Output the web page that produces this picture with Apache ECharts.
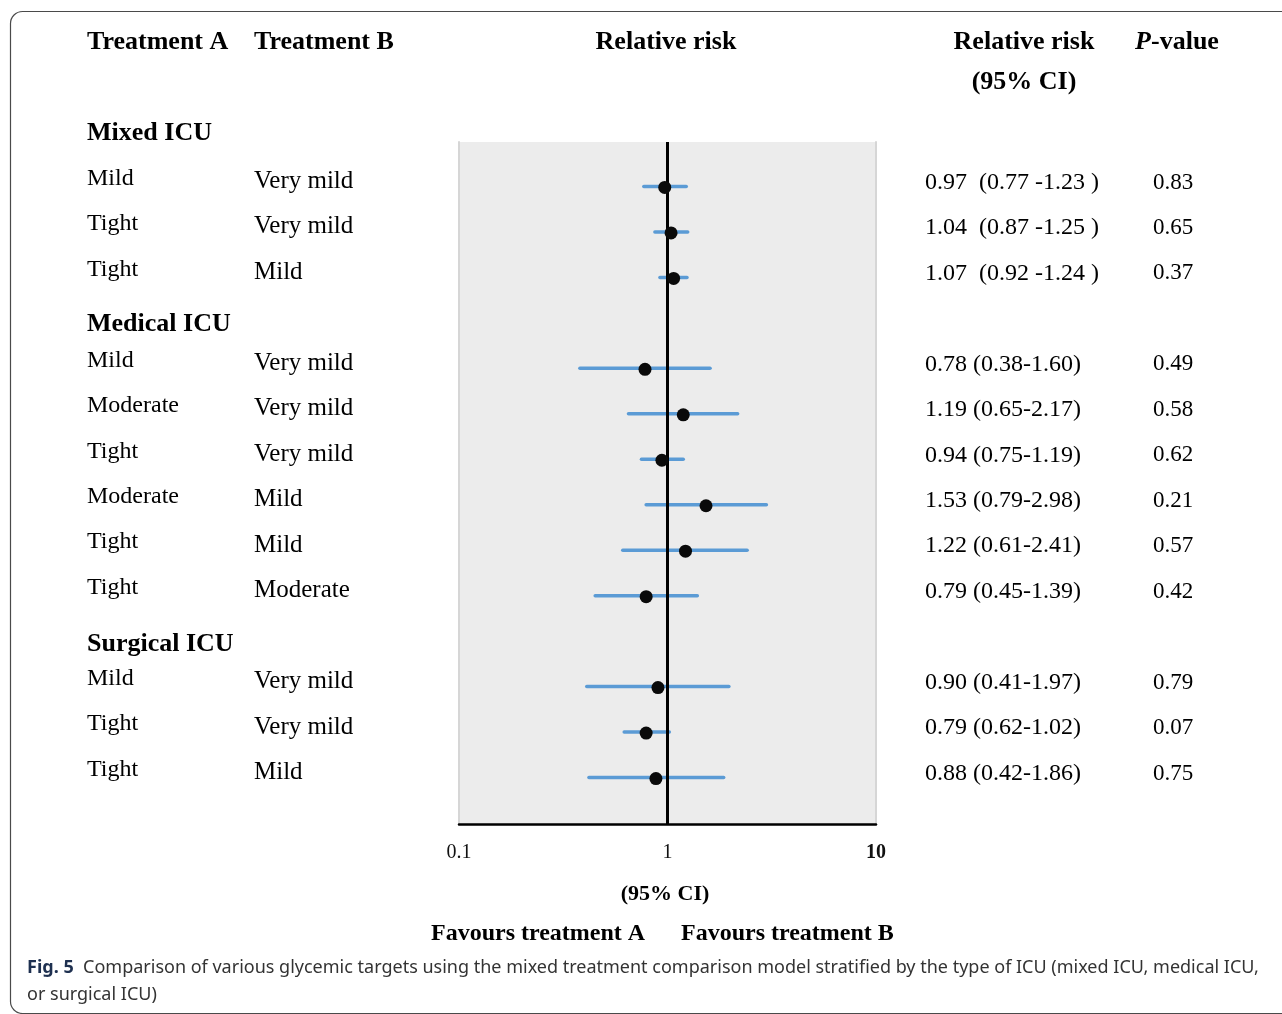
<!DOCTYPE html>
<html>
<head>
<meta charset="utf-8">
<script src="https://cdn.jsdelivr.net/npm/echarts@6/dist/echarts.min.js"></script>
<style>
  html, body { margin: 0; padding: 0; background: #fff; }
  #chart { width: 1282px; height: 1014px; }
</style>
</head>
<body>
<div id="chart"></div>
<script>
// values
var groups = ["Mixed ICU", "Medical ICU", "Surgical ICU"];
var groupSlots = [0, 4, 11];
var rowSlots = [1, 2, 3, 5, 6, 7, 8, 9, 10, 12, 13, 14];
var treatA = ["Mild", "Tight", "Tight", "Mild", "Moderate", "Tight", "Moderate", "Tight", "Tight", "Mild", "Tight", "Tight"];
var treatB = ["Very mild", "Very mild", "Mild", "Very mild", "Very mild", "Very mild", "Mild", "Mild", "Moderate", "Very mild", "Very mild", "Mild"];
var rr = [0.97, 1.04, 1.07, 0.78, 1.19, 0.94, 1.53, 1.22, 0.79, 0.90, 0.79, 0.88];
var ciLow = [0.77, 0.87, 0.92, 0.38, 0.65, 0.75, 0.79, 0.61, 0.45, 0.41, 0.62, 0.42];
var ciHigh = [1.23, 1.25, 1.24, 1.60, 2.17, 1.19, 2.98, 2.41, 1.39, 1.97, 1.02, 1.86];
var pValues = ["0.83", "0.65", "0.37", "0.49", "0.58", "0.62", "0.21", "0.57", "0.42", "0.79", "0.07", "0.75"];

var serif = '"Liberation Serif", "Times New Roman", serif';
var sans = '"Noto Sans", "Open Sans", sans-serif';
var headerNudge = [-9, 0, 2];

function ciText(i) {
  // the mixed ICU block is typeset a bit looser in the figure
  if (i < 3) {
    return rr[i].toFixed(2) + "  (" + ciLow[i].toFixed(2) + " -" + ciHigh[i].toFixed(2) + " )";
  }
  return rr[i].toFixed(2) + " (" + ciLow[i].toFixed(2) + "-" + ciHigh[i].toFixed(2) + ")";
}

// one column of the text table, drawn as label-only points on the full-width grid
function textColumn(x, texts, slots, dy, size, weight) {
  return {
    type: "scatter",
    xAxisIndex: 1,
    yAxisIndex: 1,
    symbolSize: 0,
    silent: true,
    itemStyle: { opacity: 1 },
    data: texts.map(function (t, i) {
      var item = { name: t, value: [x, slots[i]] };
      if (Array.isArray(dy)) item.label = { offset: [0, dy[i]] };
      return item;
    }),
    label: {
      show: true,
      position: "right",
      distance: 0,
      offset: [0, Array.isArray(dy) ? 0 : dy],
      formatter: "{b}",
      color: "#000",
      fontFamily: serif,
      fontSize: size,
      fontWeight: weight || "normal"
    }
  };
}

var chart = echarts.init(document.getElementById("chart"));

var option = {
  animation: false,
  backgroundColor: "#fff",
  grid: [
    { left: 459, top: 142, width: 417, height: 682, show: true, backgroundColor: "#ececec", borderWidth: 0 },
    { left: 0, top: 142, width: 1282, height: 682, show: false }
  ],
  xAxis: [
    {
      type: "log",
      gridIndex: 0,
      min: 0.1,
      max: 10,
      logBase: 10,
      axisLine: { show: true, onZero: false, lineStyle: { color: "#000", width: 2.5 } },
      axisTick: { show: false },
      splitLine: { show: false },
      axisLabel: {
        margin: 19,
        color: "#111",
        fontFamily: serif,
        fontSize: 20,
        formatter: function (v) { return v >= 10 ? "{b|" + v + "}" : String(v); },
        rich: { b: { fontFamily: serif, fontSize: 20, fontWeight: "bold", color: "#111" } }
      }
    },
    { type: "value", gridIndex: 1, min: 0, max: 1282, show: false }
  ],
  yAxis: [
    {
      type: "value", gridIndex: 0, min: 0, max: 15, inverse: true,
      axisLine: { show: true, onZero: false, lineStyle: { color: "#d6d6d6", width: 2 } },
      axisTick: { show: false }, axisLabel: { show: false }, splitLine: { show: false }
    },
    { type: "value", gridIndex: 1, min: 0, max: 15, inverse: true, show: false },
    {
      type: "value", gridIndex: 0, min: 0, max: 15, inverse: true, position: "right",
      axisLine: { show: true, onZero: false, lineStyle: { color: "#d6d6d6", width: 2 } },
      axisTick: { show: false }, axisLabel: { show: false }, splitLine: { show: false }
    }
  ],
  series: [
    {
      // confidence intervals
      type: "custom",
      xAxisIndex: 0,
      yAxisIndex: 0,
      z: 3,
      silent: true,
      data: rowSlots.map(function (s, i) { return [ciLow[i], ciHigh[i], s]; }),
      encode: { x: [0, 1], y: 2 },
      renderItem: function (params, api) {
        var a = api.coord([api.value(0), api.value(2)]);
        var b = api.coord([api.value(1), api.value(2)]);
        return {
          type: "line",
          shape: { x1: a[0], y1: a[1] - 1, x2: b[0], y2: b[1] - 1 },
          style: { stroke: "#5b9bd5", lineWidth: 3.5, lineCap: "round" }
        };
      }
    },
    {
      // line of no effect
      type: "scatter",
      xAxisIndex: 0,
      yAxisIndex: 0,
      z: 4,
      data: [],
      markLine: {
        silent: true,
        symbol: ["none", "none"],
        label: { show: false },
        lineStyle: { color: "#000", width: 3, type: "solid" },
        data: [{ xAxis: 1 }]
      }
    },
    {
      // point estimates
      type: "scatter",
      xAxisIndex: 0,
      yAxisIndex: 0,
      z: 5,
      silent: true,
      symbol: "circle",
      symbolSize: 13,
      itemStyle: { color: "#0a0a0a", opacity: 1 },
      data: rowSlots.map(function (s, i) { return [rr[i], s]; })
    },
    textColumn(87, groups, groupSlots, headerNudge, 26, "bold"),
    textColumn(87, treatA, rowSlots, -9, 24),
    textColumn(254, treatB, rowSlots, -6, 25),
    textColumn(925, rowSlots.map(function (s, i) { return ciText(i); }), rowSlots, -5, 24),
    textColumn(1153, pValues, rowSlots, -5, 23)
  ],
  graphic: [
    {
      type: "rect",
      silent: true,
      shape: { x: 10.5, y: 11.5, width: 1320, height: 1002, r: 12 },
      style: { fill: "none", stroke: "#4a4a4a", lineWidth: 1.2 }
    },
    { type: "text", silent: true, style: { x: 87, y: 42, text: "Treatment A", font: "bold 26px " + serif, fill: "#000", verticalAlign: "middle" } },
    { type: "text", silent: true, style: { x: 254, y: 42, text: "Treatment B", font: "bold 26px " + serif, fill: "#000", verticalAlign: "middle" } },
    { type: "text", silent: true, style: { x: 666, y: 42, text: "Relative risk", font: "bold 26px " + serif, fill: "#000", align: "center", verticalAlign: "middle" } },
    { type: "text", silent: true, style: { x: 1024, y: 42, text: "Relative risk", font: "bold 26px " + serif, fill: "#000", align: "center", verticalAlign: "middle" } },
    { type: "text", silent: true, style: { x: 1024, y: 82, text: "(95% CI)", font: "bold 26px " + serif, fill: "#000", align: "center", verticalAlign: "middle" } },
    {
      type: "text", silent: true,
      style: {
        x: 1177, y: 42, text: "{i|P}-value", font: "bold 26px " + serif, fill: "#000", align: "center", verticalAlign: "middle",
        rich: { i: { fontFamily: serif, fontSize: 26, fontWeight: "bold", fontStyle: "italic", fill: "#000" } }
      }
    },
    { type: "text", silent: true, style: { x: 665, y: 894, text: "(95% CI)", font: "bold 22px " + serif, fill: "#000", align: "center", verticalAlign: "middle" } },
    { type: "text", silent: true, style: { x: 431, y: 934, text: "Favours treatment A", font: "bold 24px " + serif, fill: "#000", verticalAlign: "middle" } },
    { type: "text", silent: true, style: { x: 681, y: 934, text: "Favours treatment B", font: "bold 24px " + serif, fill: "#000", verticalAlign: "middle" } },
    {
      type: "text", silent: true,
      style: {
        x: 27, y: 968,
        text: "{f|Fig. 5}  Comparison of various glycemic targets using the mixed treatment comparison model stratified by the type of ICU (mixed ICU, medical ICU,",
        font: "18px " + sans, fill: "#333", verticalAlign: "middle",
        rich: { f: { fontFamily: sans, fontSize: 18, fontWeight: "bold", fill: "#1e3050" } }
      }
    },
    { type: "text", silent: true, style: { x: 27, y: 995, text: "or surgical ICU)", font: "18px " + sans, fill: "#333", verticalAlign: "middle" } }
  ]
};

chart.setOption(option);
window.addEventListener("resize", function () {
  chart.resize();
});
</script>
</body>
</html>
